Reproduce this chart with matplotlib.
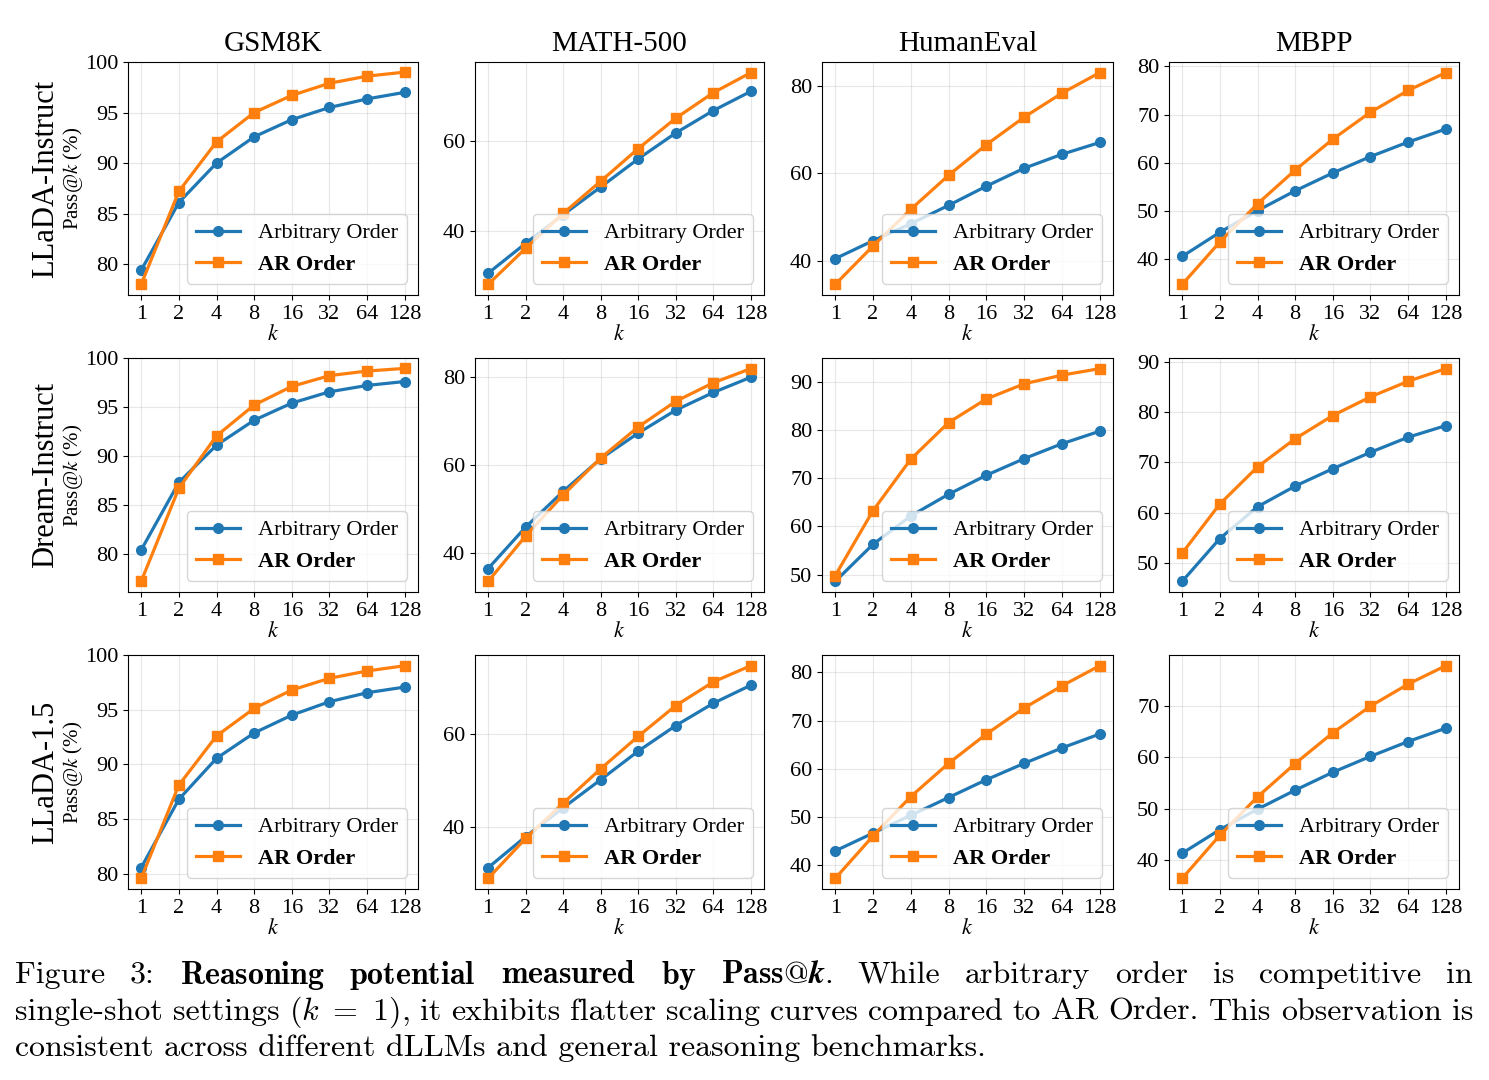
import matplotlib
matplotlib.use("Agg")
import matplotlib.pyplot as plt

plt.rcParams["font.family"] = ["Liberation Serif", "DejaVu Serif"]
plt.rcParams["mathtext.fontset"] = "stix"

k_labels = ["1", "2", "4", "8", "16", "32", "64", "128"]
benchmarks = ["GSM8K", "MATH-500", "HumanEval", "MBPP"]
models = ["LLaDA-Instruct", "Dream-Instruct", "LLaDA-1.5"]

# pass@k per benchmark (GSM8K, MATH-500, HumanEval, MBPP)
llada_inst_arb = [
    [79.4, 86.1, 90.0, 92.6, 94.3, 95.5, 96.35, 97.0],
    [30.5, 37.2, 43.6, 49.8, 56.1, 61.9, 66.9, 71.2],
    [40.5, 44.6, 48.5, 52.7, 57.1, 61.2, 64.4, 67.1],
    [40.6, 45.6, 50.1, 54.2, 57.9, 61.3, 64.3, 67.0],
]
llada_inst_ar = [
    [78.0, 87.2, 92.1, 95.0, 96.7, 97.9, 98.6, 99.0],
    [28.0, 36.1, 43.9, 51.1, 58.4, 65.2, 70.9, 75.4],
    [34.6, 43.4, 51.8, 59.6, 66.6, 72.9, 78.4, 83.1],
    [34.8, 43.6, 51.5, 58.5, 64.9, 70.5, 75.0, 78.7],
]
dream_arb = [
    [80.4, 87.3, 91.1, 93.65, 95.4, 96.55, 97.2, 97.6],
    [36.5, 45.9, 54.0, 61.4, 67.2, 72.4, 76.4, 79.85],
    [48.6, 56.3, 62.2, 66.7, 70.65, 74.1, 77.2, 79.8],
    [46.4, 54.9, 61.2, 65.3, 68.75, 72.0, 75.0, 77.3],
]
dream_ar = [
    [77.2, 86.7, 92.05, 95.2, 97.1, 98.2, 98.67, 98.94],
    [33.6, 43.9, 53.2, 61.55, 68.6, 74.4, 78.6, 81.8],
    [49.8, 63.3, 74.0, 81.6, 86.5, 89.65, 91.45, 92.8],
    [52.0, 61.75, 69.1, 74.7, 79.3, 83.0, 86.1, 88.6],
]
llada15_arb = [
    [80.55, 86.8, 90.55, 92.87, 94.5, 95.73, 96.55, 97.07],
    [31.3, 38.0, 44.2, 50.25, 56.4, 61.9, 66.7, 70.6],
    [42.9, 46.6, 50.3, 54.0, 57.7, 61.1, 64.3, 67.2],
    [41.3, 45.9, 49.9, 53.6, 57.1, 60.2, 63.1, 65.7],
]
llada15_ar = [
    [79.57, 88.1, 92.6, 95.12, 96.8, 97.87, 98.54, 99.02],
    [29.0, 37.6, 45.2, 52.6, 59.6, 66.2, 71.3, 74.8],
    [37.2, 46.0, 54.2, 61.1, 67.2, 72.6, 77.2, 81.4],
    [36.4, 44.8, 52.3, 58.8, 64.8, 70.0, 74.3, 77.9],
]
arb_all = [llada_inst_arb, dream_arb, llada15_arb]
ar_all = [llada_inst_ar, dream_ar, llada15_ar]

W, H = 1489, 1080
fig = plt.figure(figsize=(W / 100, H / 100), dpi=100)

col_px = [(128, 418), (475, 764), (822, 1113), (1169, 1459)]
row_px = [(62, 295), (358, 592), (655, 889)]
x = list(range(len(k_labels)))

for r in range(3):
    for c in range(4):
        l, rr = col_px[c]
        t, b = row_px[r]
        ax = fig.add_axes([l / W, 1 - b / H, (rr - l) / W, (b - t) / H])
        ax.plot(x, arb_all[r][c], "-o", color="#1f77b4", lw=2.3, ms=7,
                label="Arbitrary Order")
        ax.plot(x, ar_all[r][c], "-s", color="#ff7f0e", lw=2.3, ms=7,
                label="AR Order")
        ax.set_xticks(x)
        ax.set_xticklabels(k_labels)
        ax.tick_params(labelsize=16)
        ax.grid(True, alpha=0.3)
        ax.set_xlabel("$k$", fontsize=16, labelpad=1)
        if c == 0:
            ax.set_ylim(top=100)
        leg = ax.legend(loc="lower right", fontsize=16)
        leg.get_texts()[1].set_fontweight("bold")
        if r == 0:
            ax.set_title(benchmarks[c], fontsize=21, pad=8)
        if c == 0:
            ax.set_ylabel("Pass@$k$ (%)", fontsize=15, labelpad=0)
            ax.text(-0.285, 0.5, models[r], transform=ax.transAxes,
                    rotation=90, fontsize=22, ha="center", va="center")

# caption, justified word by word
cap_kw = dict(fontsize=23, family="cmr10", math_fontfamily="cm", va="center")
line1 = ["Figure", "3:", r"$\mathbf{Reasoning}$", r"$\mathbf{potential}$",
         r"$\mathbf{measured}$", r"$\mathbf{by}$",
         r"$\mathbf{Pass@}\boldsymbol{k}\mathbf{.}$",
         "While", "arbitrary", "order", "is", "competitive", "in"]
line2 = ["single-shot", "settings", "($k\ =\ 1$),", "it", "exhibits", "flatter",
         "scaling", "curves", "compared", "to", "AR", "Order.", "This",
         "observation", "is"]
line3 = "consistent across different dLLMs and general reasoning benchmarks."

renderer = fig.canvas.get_renderer()
x0, x1 = 15, 1473
for words, yc in [(line1, 975), (line2, 1012)]:
    texts = [fig.text(0, 1 - yc / H, w, **cap_kw) for w in words]
    widths = [tx.get_window_extent(renderer).width for tx in texts]
    gap = (x1 - x0 - sum(widths)) / (len(words) - 1)
    pos = x0
    for tx, wd in zip(texts, widths):
        tx.set_x(pos / W)
        pos += wd + gap
fig.text(x0 / W, 1 - 1048 / H, line3, **cap_kw)

fig.savefig("out.png", dpi=100)
